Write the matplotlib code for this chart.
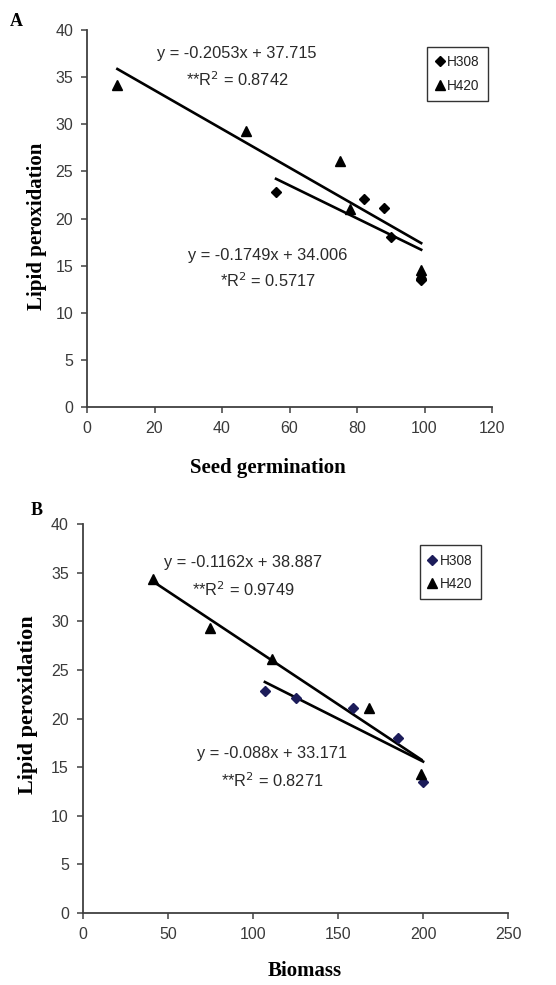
import numpy as np
import matplotlib
matplotlib.use('Agg')
import matplotlib.pyplot as plt

# panel A - seed germination
germ_h308 = [56, 82, 88, 90, 99]
lpo_a_h308 = [22.8, 22.1, 21.1, 18.0, 13.5]
germ_h420 = [9, 47, 75, 78, 99, 99]
lpo_a_h420 = [34.2, 29.3, 26.1, 21.0, 14.5, 14.1]
fit_a_h420 = (-0.2053, 37.715)
fit_a_h308 = (-0.1749, 34.006)

# panel B - biomass
bio_h308 = [107, 125, 159, 185, 200]
lpo_b_h308 = [22.8, 22.1, 21.1, 18.0, 13.5]
bio_h420 = [41, 75, 111, 168, 199]
lpo_b_h420 = [34.3, 29.3, 26.1, 21.1, 14.3]
fit_b_h420 = (-0.1162, 38.887)
fit_b_h308 = (-0.088, 33.171)

tick_col = '#3a3a3a'
serif = ['Liberation Serif', 'DejaVu Serif']
sans = ['Liberation Sans', 'DejaVu Sans']

fig = plt.figure(figsize=(5.56, 9.85), dpi=100)
axA = fig.add_axes([0.1565, 0.5868, 0.7285, 0.3827])
axB = fig.add_axes([0.149, 0.0731, 0.765, 0.3949])


def draw_panel(ax, xs8, ys8, xs4, ys4, f4, f8, c308, xmax, xstep, xlabel,
               xlab_pos, ylab_pos, ylab_size, leg_anchor):
    ax.plot(xs8, ys8, 'D', color=c308, ms=5.5, label='H308', zorder=3)
    ax.plot(xs4, ys4, '^', color='black', ms=7.5, label='H420', zorder=3)
    # trend lines across the range of each series
    xx = np.array([min(xs4), max(xs4)])
    ax.plot(xx, f4[0] * xx + f4[1], color='black', lw=1.9)
    xx = np.array([min(xs8), max(xs8)])
    ax.plot(xx, f8[0] * xx + f8[1], color='black', lw=1.9)
    ax.set_xlim(0, xmax)
    ax.set_ylim(0, 40)
    ax.set_xticks(np.arange(0, xmax + 1, xstep))
    ax.set_yticks(np.arange(0, 41, 5))
    for s in ['top', 'right']:
        ax.spines[s].set_visible(False)
    for s in ['left', 'bottom']:
        ax.spines[s].set_color('#404040')
        ax.spines[s].set_linewidth(1.3)
    ax.tick_params(direction='out', length=4, width=1.1, color='#404040',
                   labelcolor=tick_col, labelsize=11.5, pad=6)
    for lab in ax.get_xticklabels() + ax.get_yticklabels():
        lab.set_family(sans)
    ax.set_ylabel('Lipid peroxidation', family=serif, fontweight='bold',
                  fontsize=ylab_size)
    ax.set_xlabel(xlabel, family=serif, fontweight='bold', fontsize=15)
    ax.yaxis.label.set_va('center')
    ax.xaxis.label.set_va('center')
    ax.yaxis.set_label_coords(*ylab_pos)
    ax.xaxis.set_label_coords(*xlab_pos)
    leg = ax.legend(loc='upper right', bbox_to_anchor=leg_anchor,
                    frameon=True, fancybox=False, handlelength=0.6,
                    handletextpad=0.25, borderpad=0.6, labelspacing=0.7,
                    borderaxespad=0, prop={'family': sans, 'size': 9.8})
    leg.get_frame().set_edgecolor('black')
    leg.get_frame().set_linewidth(1.0)
    for t in leg.get_texts():
        t.set_color('#222222')


draw_panel(axA, germ_h308, lpo_a_h308, germ_h420, lpo_a_h420,
           fit_a_h420, fit_a_h308, 'black', 120, 20, 'Seed germination',
           (0.447, -0.162), (-0.123, 0.48), 15, (0.99, 0.955))
draw_panel(axB, bio_h308, lpo_b_h308, bio_h420, lpo_b_h420,
           fit_b_h420, fit_b_h308, '#1c1c5a', 250, 50, 'Biomass',
           (0.522, -0.15), (-0.13, 0.535), 16, (0.935, 0.945))

eq_kw = dict(ha='center', va='center', fontsize=11.8, color='#2a2a2a', family=sans)
axA.text(44.5, 37.5, 'y = -0.2053x + 37.715', **eq_kw)
axA.text(44.5, 34.7, '**R$^{2}$ = 0.8742', **eq_kw)
axA.text(53.5, 16.1, 'y = -0.1749x + 34.006', **eq_kw)
axA.text(53.5, 13.4, '*R$^{2}$ = 0.5717', **eq_kw)

axB.text(94, 36.0, 'y = -0.1162x + 38.887', **eq_kw)
axB.text(94, 33.2, '**R$^{2}$ = 0.9749', **eq_kw)
axB.text(111, 16.4, 'y = -0.088x + 33.171', **eq_kw)
axB.text(111, 13.6, '**R$^{2}$ = 0.8271', **eq_kw)

fig.text(0.018, 0.978, 'A', family=serif, fontweight='bold', fontsize=13, va='center')
fig.text(0.055, 0.482, 'B', family=serif, fontweight='bold', fontsize=13, va='center')

fig.savefig('out.png', dpi=100)
